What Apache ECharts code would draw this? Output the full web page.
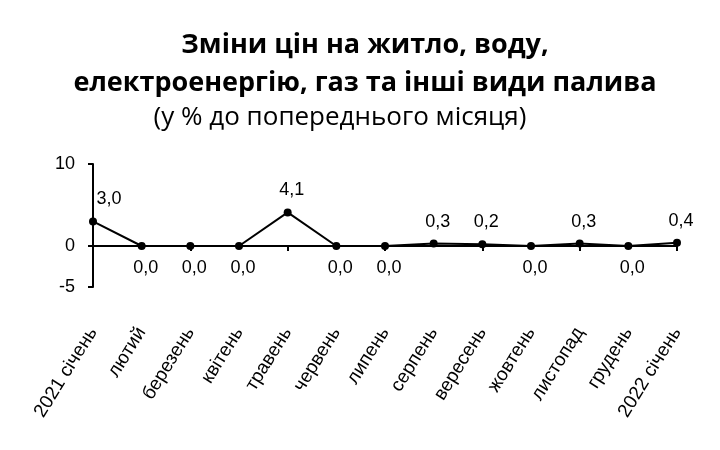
<!DOCTYPE html>
<html><head><meta charset="utf-8">
<script src="https://cdn.jsdelivr.net/npm/echarts@6/dist/echarts.min.js"></script>
<style>html,body{margin:0;padding:0;background:#fff}#c{width:720px;height:450px}</style>
</head><body><div id="c"></div>
<script>
const categories = ['2021 січень','лютий','березень','квітень','травень','червень','липень','серпень','вересень','жовтень','листопад','грудень','2022 січень'];
const values = [3.0, 0.0, 0.0, 0.0, 4.1, 0.0, 0.0, 0.3, 0.2, 0.0, 0.3, 0.0, 0.4];
const yTicks = [-5, 0, 10];
const titleLines = ['Зміни цін на житло, воду,', 'електроенергію, газ та інші види палива'];
const subtitle = '(у % до попереднього місяця)';

const FONT = '"Liberation Sans", Arial, sans-serif';
const chart = echarts.init(document.getElementById('c'), null, {renderer: 'canvas'});

const seriesData = values.map((v, i) => ({
  value: v,
  label: {
    position: v > 0 ? 'top' : 'bottom',
    offset: i === 0 ? [16, 0] : [4, 0],
    distance: 9
  }
}));

chart.setOption({
  animation: false,
  backgroundColor: '#fff',
  graphic: [
    {type: 'text', x: 365, y: 45, style: {text: titleLines[0], fill: '#000', font: 'bold 27px "Open Sans", sans-serif', textAlign: 'center', textVerticalAlign: 'middle'}},
    {type: 'text', x: 365, y: 83, style: {text: titleLines[1], fill: '#000', font: 'bold 27px "Open Sans", sans-serif', textAlign: 'center', textVerticalAlign: 'middle'}},
    {type: 'text', x: 340, y: 118, style: {text: subtitle, fill: '#000', font: '26px "Open Sans", sans-serif', textAlign: 'center', textVerticalAlign: 'middle'}}
  ],
  grid: {left: 93, right: 43, top: 164, bottom: 163, containLabel: false},
  xAxis: [
    {
      type: 'category', data: categories, boundaryGap: false,
      axisLine: {onZero: true, lineStyle: {color: '#000', width: 2}},
      axisTick: {show: true, length: 5, lineStyle: {color: '#000', width: 2}, alignWithLabel: true},
      axisLabel: {show: false},
      splitLine: {show: false}
    },
    {
      type: 'category', data: categories, boundaryGap: false, position: 'bottom',
      axisLine: {show: false, onZero: false},
      axisTick: {show: false},
      axisLabel: {show: true, interval: 0, rotate: 58, margin: 42, color: '#000', fontSize: 19, fontFamily: FONT},
      splitLine: {show: false}
    }
  ],
  yAxis: {
    type: 'value', min: -5, max: 10, interval: 5,
    axisLine: {show: true, lineStyle: {color: '#000', width: 2}},
    axisTick: {show: true, length: 5, customValues: yTicks, lineStyle: {color: '#000', width: 2}},
    axisLabel: {show: true, customValues: yTicks, margin: 18, color: '#000', fontSize: 18, fontFamily: FONT},
    splitLine: {show: false}
  },
  series: [{
    type: 'line', xAxisIndex: 0, data: seriesData,
    symbol: 'circle', symbolSize: 8,
    lineStyle: {color: '#000', width: 2},
    itemStyle: {color: '#000'},
    label: {show: true, color: '#000', fontSize: 18, fontFamily: FONT,
      formatter: p => p.value.toFixed(1).replace('.', ',')}
  }]
});
</script></body></html>
